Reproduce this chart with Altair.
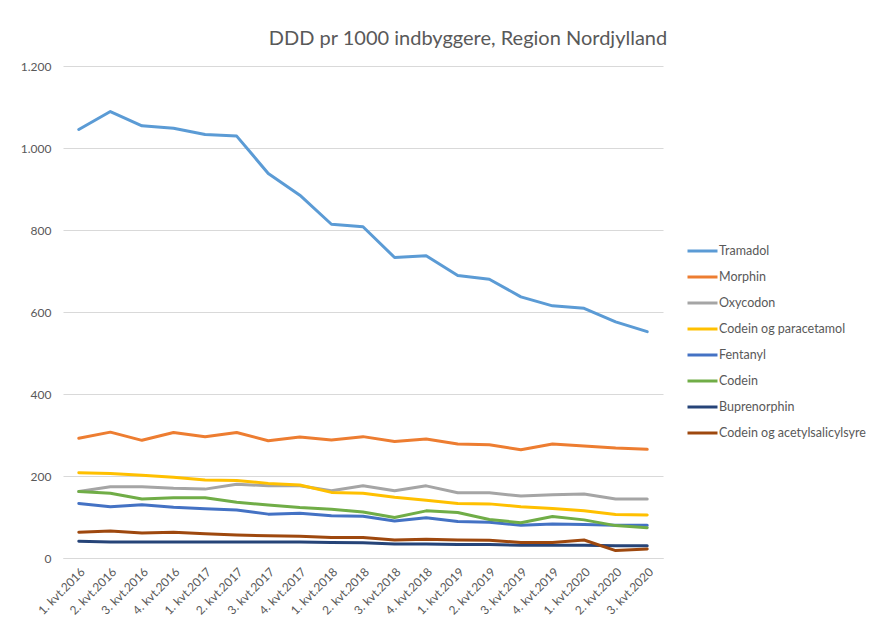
import altair as alt
import pandas as pd

quarters = [
    "1. kvt.2016", "2. kvt.2016", "3. kvt.2016", "4. kvt.2016",
    "1. kvt.2017", "2. kvt.2017", "3. kvt.2017", "4. kvt.2017",
    "1. kvt.2018", "2. kvt.2018", "3. kvt.2018", "4. kvt.2018",
    "1. kvt.2019", "2. kvt.2019", "3. kvt.2019", "4. kvt.2019",
    "1. kvt.2020", "2. kvt.2020", "3. kvt.2020",
]

series_names = [
    "Tramadol", "Morphin", "Oxycodon", "Codein og paracetamol",
    "Fentanyl", "Codein", "Buprenorphin", "Codein og acetylsalicylsyre",
]

tramadol = [1045, 1089, 1054, 1048, 1033, 1029, 938, 885, 814, 808,
            733, 737, 689, 680, 637, 615, 609, 576, 552]
morphin = [292, 307, 287, 306, 296, 306, 286, 295, 288, 296,
           284, 290, 278, 276, 264, 278, 273, 268, 265]
oxycodon = [162, 174, 174, 170, 168, 180, 176, 176, 164, 176,
            164, 176, 159, 159, 151, 154, 156, 144, 144]
codein_paracetamol = [208, 206, 202, 197, 190, 189, 182, 178, 160, 158,
                      148, 141, 133, 132, 125, 121, 115, 106, 105]
fentanyl = [133, 125, 130, 124, 120, 117, 107, 109, 103, 102,
            90, 98, 89, 87, 80, 83, 82, 80, 80]
codein = [162, 158, 144, 147, 147, 136, 129, 123, 119, 112,
          99, 115, 111, 94, 86, 101, 93, 79, 74]
buprenorphin = [41, 39, 39, 39, 39, 39, 39, 39, 38, 37,
                34, 34, 33, 33, 31, 31, 31, 30, 30]
codein_asa = [63, 66, 61, 63, 59, 56, 54, 53, 50, 50,
              44, 46, 44, 43, 38, 38, 44, 18, 22]

colors = ["#5B9BD5", "#ED7D31", "#A5A5A5", "#FFC000",
          "#4472C4", "#70AD47", "#264478", "#9E480E"]

all_series = [tramadol, morphin, oxycodon, codein_paracetamol,
              fentanyl, codein, buprenorphin, codein_asa]

rows = []
for si, (name, vals) in enumerate(zip(series_names, all_series)):
    for q, v in zip(quarters, vals):
        rows.append({"kvartal": q, "serie": name, "værdi": v, "ord": si})
df = pd.DataFrame(rows)

FONT = "Lato"
TXT = "#595959"

chart = alt.Chart(df).mark_line(strokeWidth=3, strokeCap="round", strokeJoin="round").encode(
    x=alt.X("kvartal:N", sort=quarters, title=None,
            axis=alt.Axis(labelAngle=-45, ticks=False, grid=False,
                          domainColor="#d9d9d9", labelFontSize=12,
                          labelColor=TXT, labelFont=FONT, labelPadding=8)),
    y=alt.Y("værdi:Q", title=None,
            scale=alt.Scale(domain=[0, 1200], nice=False),
            axis=alt.Axis(values=[0, 200, 400, 600, 800, 1000, 1200],
                          labelExpr="replace(format(datum.value, ','), ',', '.')",
                          domain=False, ticks=False, gridColor="#d9d9d9",
                          labelColor=TXT, labelFontSize=12, labelFont=FONT,
                          labelPadding=12)),
    color=alt.Color("serie:N", sort=series_names,
                    scale=alt.Scale(domain=series_names, range=colors),
                    legend=alt.Legend(orient="none", legendX=623, legendY=175,
                                      title=None, symbolType="stroke",
                                      symbolSize=900, symbolStrokeWidth=3,
                                      labelFontSize=12.5, labelColor=TXT,
                                      labelFont=FONT, clipHeight=20,
                                      rowPadding=6, labelOffset=0, padding=0,
                                      labelLimit=300)),
    detail="ord:O",
).properties(
    width=600,
    height=492,
    title=alt.TitleParams("DDD pr 1000 indbyggere, Region Nordjylland",
                          fontSize=20, font=FONT, color=TXT,
                          fontWeight="normal", anchor="middle", dx=105,
                          offset=11),
    autosize=alt.AutoSizeParams(type="none"),
    padding={"left": 55, "top": 58, "right": 204, "bottom": 61},
    background="white",
).configure_view(stroke=None)

chart.save("out.html", embed_options={"renderer": "svg", "actions": False})
